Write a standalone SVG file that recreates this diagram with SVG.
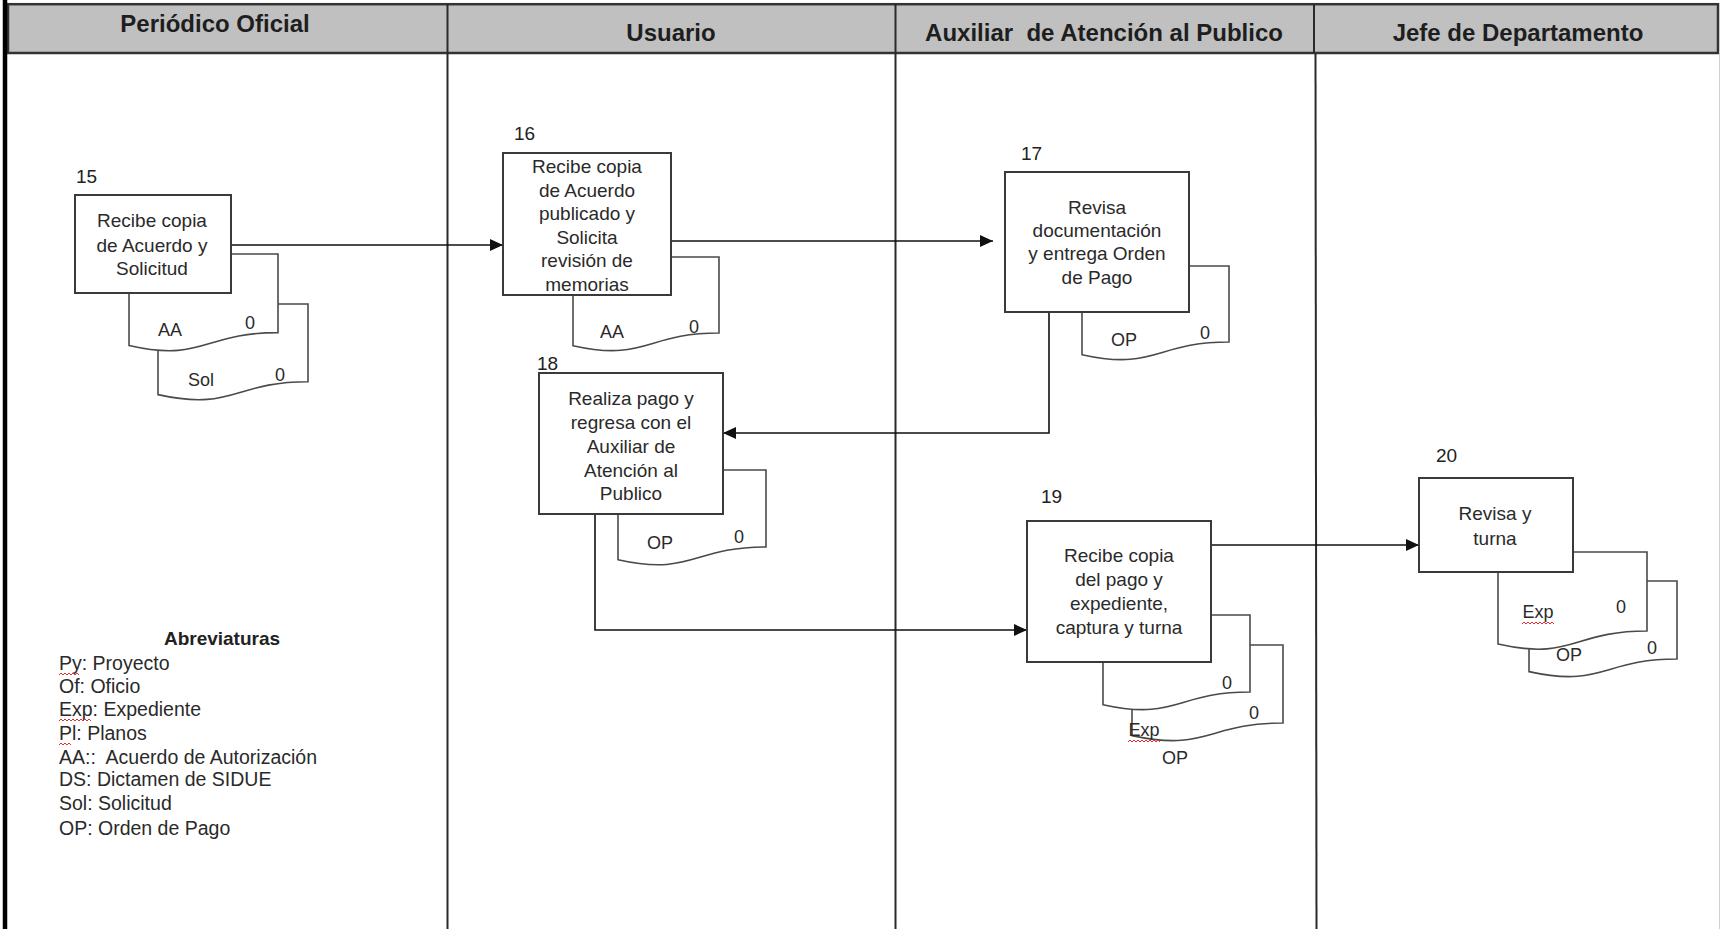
<svg xmlns="http://www.w3.org/2000/svg" width="1721" height="929" viewBox="0 0 1721 929">
<style>
  .hdr{font-family:"Liberation Sans",Arial,sans-serif;font-weight:bold;font-size:24px;fill:#1e1e1e;text-anchor:middle}
  .t{font-family:"Liberation Sans",Arial,sans-serif;font-size:19px;fill:#2a2a2a;text-anchor:middle}
  .num{font-family:"Liberation Sans",Arial,sans-serif;font-size:19px;fill:#222}
  .dl{font-family:"Liberation Sans",Arial,sans-serif;font-size:18px;fill:#2a2a2a;text-anchor:middle}
  .lg{font-family:"Liberation Sans",Arial,sans-serif;font-size:19.5px;fill:#2a2a2a}
  .lgb{font-family:"Liberation Sans",Arial,sans-serif;font-size:19px;font-weight:bold;fill:#222;text-anchor:middle}
  .box{fill:#fff;stroke:#3a3a3a;stroke-width:2}
  .doc{fill:#fff;stroke:#4a4a4a;stroke-width:1.6}
  .lane{stroke:#2a2a2a;stroke-width:2;fill:none}
  .conn{stroke:#111;stroke-width:1.6;fill:none}
  .sq{stroke:#e03030;stroke-width:1;fill:none}
</style>
<defs>
  <marker id="arr" markerUnits="userSpaceOnUse" markerWidth="14" markerHeight="12" refX="13" refY="6" orient="auto">
    <path d="M0,0 L13,6 L0,12 Z" fill="#111"/>
  </marker>
</defs>
<rect x="0" y="0" width="1721" height="929" fill="#fff"/>

<g id="swimlanes">
  <rect x="8" y="4.2" width="1710" height="48.8" fill="#c0c0c0" stroke="#333" stroke-width="2.5"/>
  <line x1="5" y1="0" x2="5" y2="929" stroke="#000" stroke-width="4.5"/>
  <line class="lane" x1="447.5" y1="4" x2="447.5" y2="929"/>
  <line class="lane" x1="895.5" y1="4" x2="895.5" y2="929"/>
  <line class="lane" x1="1314" y1="4" x2="1314" y2="53"/>
  <line class="lane" x1="1315.5" y1="53" x2="1316.5" y2="929"/>
  <line x1="1719.5" y1="53" x2="1719.5" y2="929" stroke="#d0d0d0" stroke-width="1"/>
  <text class="hdr" x="215" y="32">Periódico Oficial</text>
  <text class="hdr" x="671" y="41">Usuario</text>
  <text class="hdr" x="1104" y="41">Auxiliar&#160; de Atención al Publico</text>
  <text class="hdr" x="1518" y="41">Jefe de Departamento</text>
</g>

<g id="connectors">
  <path class="conn" d="M231 245 H503" marker-end="url(#arr)"/>
  <path class="conn" d="M671 241 H993" marker-end="url(#arr)"/>
  <path class="conn" d="M1049 312 V433 H723" marker-end="url(#arr)"/>
  <path class="conn" d="M595 514 V630 H1027" marker-end="url(#arr)"/>
  <path class="conn" d="M1211 545 H1419" marker-end="url(#arr)"/>
</g>

<g id="node15">
  <path class="doc" d="M158 304 H308 V381.8 C233 381.8 233 411.4 158 394.6 Z"/>
  <path class="doc" d="M129 254 H278 V332.6 C203.5 332.6 203.5 362.5 129 345.5 Z"/>
  <rect class="box" x="75" y="195" width="156" height="98"/>
  <text class="num" x="76" y="183">15</text>
  <text class="t" x="152" y="227">Recibe copia</text>
  <text class="t" x="152" y="251.5">de Acuerdo y</text>
  <text class="t" x="152" y="275">Solicitud</text>
  <text class="dl" x="170" y="336">AA</text>
  <text class="dl" x="250" y="329">0</text>
  <text class="dl" x="201" y="386">Sol</text>
  <text class="dl" x="280" y="381">0</text>
</g>

<g id="node16">
  <path class="doc" d="M573 257 H719 V333 C646 333 646 362 573 345.7 Z"/>
  <rect class="box" x="503" y="153" width="168" height="142"/>
  <text class="num" x="514" y="140">16</text>
  <text class="t" x="587" y="173">Recibe copia</text>
  <text class="t" x="587" y="196.6">de Acuerdo</text>
  <text class="t" x="587" y="220.2">publicado y</text>
  <text class="t" x="587" y="243.8">Solicita</text>
  <text class="t" x="587" y="267.4">revisión de</text>
  <text class="t" x="587" y="291">memorias</text>
  <text class="dl" x="612" y="338">AA</text>
  <text class="dl" x="694" y="333">0</text>
</g>

<g id="node17">
  <path class="doc" d="M1082 266 H1229 V342 C1155.5 342 1155.5 371 1082 354.7 Z"/>
  <rect class="box" x="1005" y="172" width="184" height="140"/>
  <text class="num" x="1021" y="160">17</text>
  <text class="t" x="1097" y="214">Revisa</text>
  <text class="t" x="1097" y="237">documentación</text>
  <text class="t" x="1097" y="260">y entrega Orden</text>
  <text class="t" x="1097" y="284">de Pago</text>
  <text class="dl" x="1124" y="346">OP</text>
  <text class="dl" x="1205" y="339">0</text>
</g>

<g id="node18">
  <path class="doc" d="M618 470 H766 V547 C692 547 692 576.3 618 559.7 Z"/>
  <rect class="box" x="539" y="373" width="184" height="141"/>
  <text class="num" x="537" y="370">18</text>
  <text class="t" x="631" y="405">Realiza pago y</text>
  <text class="t" x="631" y="429">regresa con el</text>
  <text class="t" x="631" y="453">Auxiliar de</text>
  <text class="t" x="631" y="476.5">Atención al</text>
  <text class="t" x="631" y="500">Publico</text>
  <text class="dl" x="660" y="549">OP</text>
  <text class="dl" x="739" y="543">0</text>
</g>

<g id="node19">
  <path class="doc" d="M1132 645 H1283 V723 C1207.5 723 1207.5 752 1132 735.6 Z"/>
  <path class="doc" d="M1103 615 H1250 V692 C1176.5 692 1176.5 721 1103 704.7 Z"/>
  <rect class="box" x="1027" y="521" width="184" height="141"/>
  <text class="num" x="1041" y="503">19</text>
  <text class="t" x="1119" y="562">Recibe copia</text>
  <text class="t" x="1119" y="586">del pago y</text>
  <text class="t" x="1119" y="610">expediente,</text>
  <text class="t" x="1119" y="634">captura y turna</text>
  <text class="dl" x="1227" y="689">0</text>
  <text class="dl" x="1254" y="719">0</text>
  <text class="dl" x="1144" y="736">Exp</text>
  <path class="sq" d="M1128 742 l2 -2 l2 2 l2 -2 l2 2 l2 -2 l2 2 l2 -2 l2 2 l2 -2 l2 2 l2 -2 l2 2 l2 -2 l2 2 l2 -2 l2 2"/>
  <text class="dl" x="1175" y="764">OP</text>
</g>

<g id="node20">
  <path class="doc" d="M1529 581 H1677 V659 C1603 659 1603 688 1529 671.6 Z"/>
  <path class="doc" d="M1498 552 H1647 V631 C1572.5 631 1572.5 661 1498 644 Z"/>
  <rect class="box" x="1419" y="478" width="154" height="94"/>
  <text class="num" x="1436" y="462">20</text>
  <text class="t" x="1495" y="520">Revisa y</text>
  <text class="t" x="1495" y="545">turna</text>
  <text class="dl" x="1538" y="618">Exp</text>
  <path class="sq" d="M1522 624 l2 -2 l2 2 l2 -2 l2 2 l2 -2 l2 2 l2 -2 l2 2 l2 -2 l2 2 l2 -2 l2 2 l2 -2 l2 2 l2 -2 l2 2"/>
  <text class="dl" x="1621" y="613">0</text>
  <text class="dl" x="1569" y="661">OP</text>
  <text class="dl" x="1652" y="654">0</text>
</g>

<g id="legend">
  <text class="lgb" x="222" y="645">Abreviaturas</text>
  <text class="lg" x="59" y="670">Py: Proyecto</text>
  <path class="sq" d="M59 675 l2 -2 l2 2 l2 -2 l2 2 l2 -2 l2 2 l2 -2 l2 2 l2 -2 l2 2"/>
  <text class="lg" x="59" y="693">Of: Oficio</text>
  <text class="lg" x="59" y="716">Exp: Expediente</text>
  <path class="sq" d="M59 721 l2 -2 l2 2 l2 -2 l2 2 l2 -2 l2 2 l2 -2 l2 2 l2 -2 l2 2 l2 -2 l2 2 l2 -2 l2 2 l2 -2 l2 2"/>
  <text class="lg" x="59" y="740">Pl: Planos</text>
  <path class="sq" d="M59 745 l2 -2 l2 2 l2 -2 l2 2 l2 -2 l2 2"/>
  <text class="lg" x="59" y="764">AA::&#160; Acuerdo de Autorización</text>
  <text class="lg" x="59" y="786">DS: Dictamen de SIDUE</text>
  <text class="lg" x="59" y="810">Sol: Solicitud</text>
  <text class="lg" x="59" y="835">OP: Orden de Pago</text>
</g>
</svg>
